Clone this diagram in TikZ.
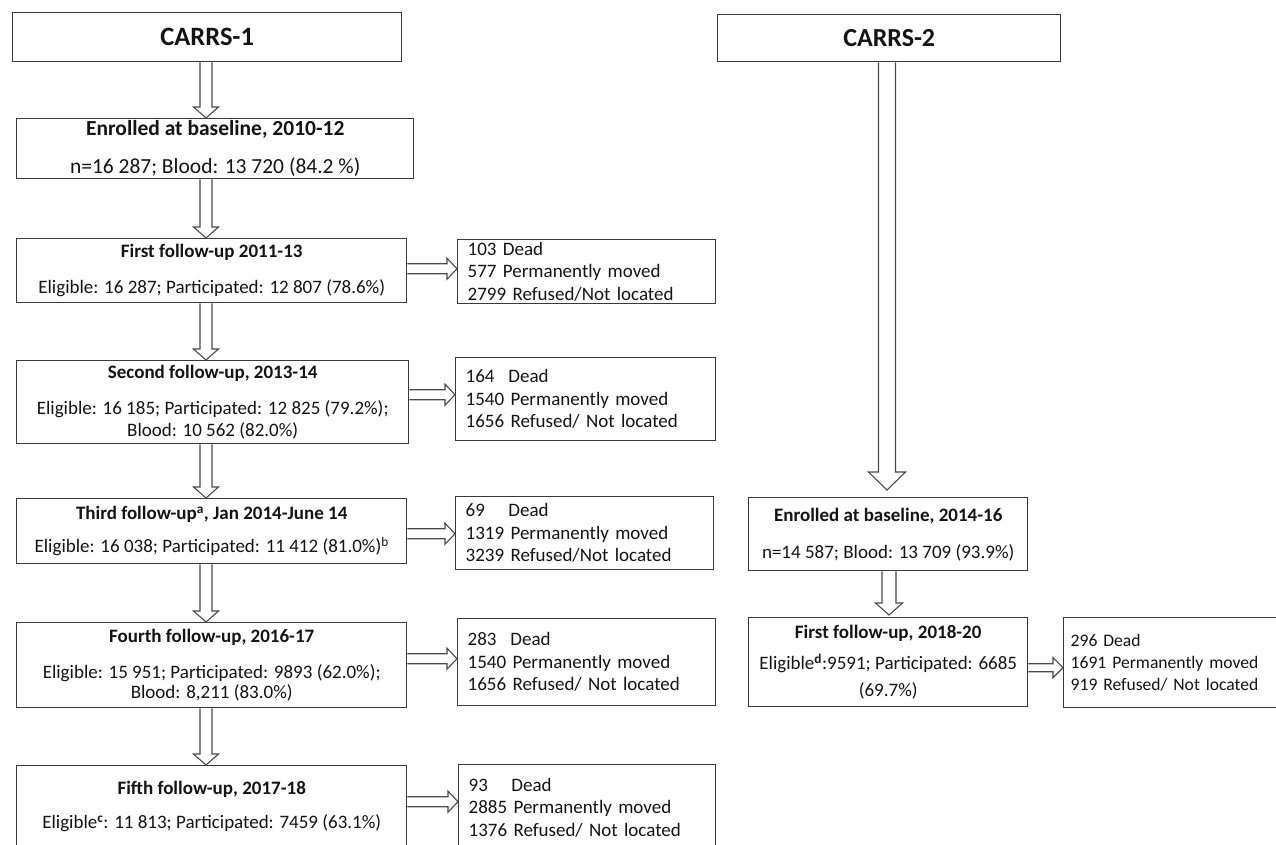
\documentclass[tikz,border=0pt]{standalone}
\usepackage{fontspec}
\setmainfont{Carlito}
\usetikzlibrary{calc}
\definecolor{boxline}{HTML}{3A3A3A}
\definecolor{arrline}{HTML}{4A4A4A}
\definecolor{txt}{HTML}{141414}
% vertical block arrow: source, target, shaft half width, head half width, head length
\newcommand\vblk[5]{%
  \filldraw[blk] let \p1=(#1), \p2=(#2) in
    (\x1-#3pt,\y1) -- (\x1-#3pt,\y2+#5pt) -- (\x1-#4pt,\y2+#5pt) -- (\x1,\y2)
    -- (\x1+#4pt,\y2+#5pt) -- (\x1+#3pt,\y2+#5pt) -- (\x1+#3pt,\y1);}
% horizontal block arrow
\newcommand\hblk[5]{%
  \filldraw[blk] let \p1=(#1), \p2=(#2) in
    (\x1,\y1+#3pt) -- (\x2-#5pt,\y1+#3pt) -- (\x2-#5pt,\y1+#4pt) -- (\x2,\y1)
    -- (\x2-#5pt,\y1-#4pt) -- (\x2-#5pt,\y1-#3pt) -- (\x1,\y1-#3pt);}
\newcommand\dd[1]{\makebox[2.25em][l]{#1}}
\begin{document}
\begin{tikzpicture}[x=1pt,y=-1pt,
  box/.style={draw=boxline, line width=1.4pt, fill=white, inner sep=0pt,
    anchor=north west, align=center, text=txt,
    font=\fontsize{19}{22.5}\selectfont},
  side/.style={box, align=left, inner xsep=10pt},
  blk/.style={draw=arrline, fill=white, line width=1.1pt, line join=miter}]
\useasboundingbox (0,0) rectangle (1276,845);
\fill[white] (0,0) rectangle (1276,845);
\coordinate (ax) at (206,0);
\coordinate (bx) at (887,0);
\coordinate (cx) at (889,0);

% CARRS-1 column
\node[box, minimum width=389, minimum height=49, font=\fontsize{26.5}{30}\selectfont\bfseries]
  (carrs1) at (12,12) {CARRS-1};
\node[box, minimum width=397, minimum height=60, font=\fontsize{21.5}{26}\selectfont]
  (enr1) at (16,118) {\textbf{Enrolled at baseline, 2010-12}\\[12pt]n=16 287; Blood: 13 720 (84.2 \%)};
\node[box, minimum width=390, minimum height=64]
  (fu1) at (16,238) {\textbf{First follow-up 2011-13}\\[13.5pt]Eligible: 16 287; Participated: 12 807 (78.6\%)};
\node[box, minimum width=392, minimum height=83]
  (fu2) at (16,360) {\textbf{Second follow-up, 2013-14}\\[13.5pt]Eligible: 16 185; Participated: 12 825 (79.2\%);\\Blood: 10 562 (82.0\%)};
\node[box, minimum width=390, minimum height=65]
  (fu3) at (16,498) {\textbf{Third follow-up\textsuperscript{a}, Jan 2014-June 14}\\[10.5pt]Eligible: 16 038; Participated: 11 412 (81.0\%)\textsuperscript{b}};
\node[box, minimum width=390, minimum height=85]
  (fu4) at (16,622) {\textbf{Fourth follow-up, 2016-17}\\[13.5pt]Eligible: 15 951; Participated: 9893 (62.0\%);\\[-2pt]Blood: 8,211 (83.0\%)};
\node[box, minimum width=390, minimum height=82]
  (fu5) at (16,765) {\textbf{Fifth follow-up, 2017-18}\\[11.5pt]Eligible\textsuperscript{\textbf{c}}: 11 813; Participated: 7459 (63.1\%)};

% side boxes
\node[side, text width=238, minimum height=64] (s1) at (457,239)
  {103 Dead\\577 Permanently moved\\2799 Refused/Not located};
\node[side, text width=240, minimum height=83] (s2) at (455,357)
  {\dd{164}Dead\\1540 Permanently moved\\1656 Refused/ Not located};
\node[side, text width=238, minimum height=73] (s3) at (455,496)
  {\dd{69}Dead\\1319 Permanently moved\\3239 Refused/Not located};
\node[side, text width=238, minimum height=87] (s4) at (457,618)
  {\dd{283}Dead\\1540 Permanently moved\\1656 Refused/ Not located};
\node[side, text width=237, minimum height=86] (s5) at (458,764)
  {\dd{93}Dead\\2885 Permanently moved\\1376 Refused/ Not located};

% CARRS-2 column
\node[box, minimum width=343, minimum height=47, font=\fontsize{26}{30}\selectfont\bfseries]
  (carrs2) at (717,14) {CARRS-2};
\node[box, minimum width=279, minimum height=73]
  (enr2) at (748,497) {\textbf{Enrolled at baseline, 2014-16}\\[14.5pt]n=14 587; Blood: 13 709 (93.9\%)};
\node[box, minimum width=279, minimum height=89]
  (fu21) at (748,617) {\textbf{First follow-up, 2018-20}\\[8.5pt]Eligible\textsuperscript{\textbf{d}}:9591; Participated: 6685\\[5pt](69.7\%)};
\node[side, text width=220, minimum height=90, inner xsep=7pt,
  font=\fontsize{17.6}{22}\selectfont] (s21) at (1063,617)
  {296 Dead\\1691 Permanently moved\\919 Refused/ Not located};

% vertical arrows, CARRS-1
\vblk{carrs1.south -| ax}{enr1.north -| ax}{6}{12.5}{11}
\vblk{enr1.south -| ax}{fu1.north -| ax}{6}{12.5}{11}
\vblk{fu1.south -| ax}{fu2.north -| ax}{6}{12.5}{11}
\vblk{fu2.south -| ax}{fu3.north -| ax}{6}{12.5}{11}
\vblk{fu3.south -| ax}{fu4.north -| ax}{6}{12.5}{11}
\vblk{fu4.south -| ax}{fu5.north -| ax}{6}{12.5}{11}

% horizontal arrows
\hblk{$(fu1.east)+(0,-2)$}{s1.west}{5}{10.5}{10}
\hblk{$(fu2.east)+(0,-7.5)$}{s2.west}{5}{10.5}{10}
\hblk{$(fu3.east)+(0,2.5)$}{s3.west}{5}{10.5}{10}
\hblk{$(fu4.east)+(0,-6.5)$}{s4.west}{5}{10.5}{10}
\hblk{$(fu5.east)+(0,-5)$}{s5.west}{5}{10.5}{10}
\hblk{$(fu21.east)+(0,5.5)$}{s21.west}{4}{10}{10}

% CARRS-2 arrows
\vblk{carrs2.south -| bx}{$(enr2.north -| bx)+(0,-7)$}{8.5}{18.5}{18}
\vblk{enr2.south -| cx}{$(fu21.north -| cx)+(0,-2)$}{7}{13.5}{12}
\end{tikzpicture}
\end{document}
